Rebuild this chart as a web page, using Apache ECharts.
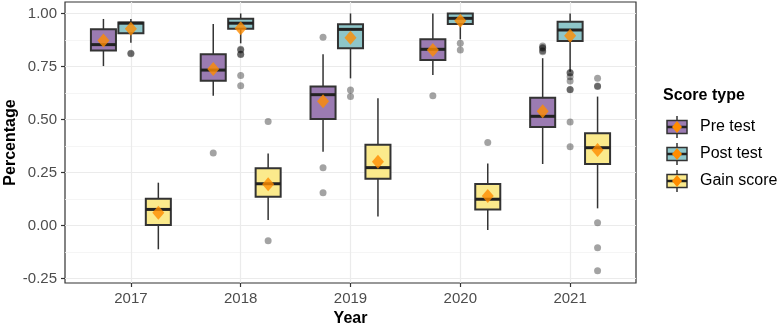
<!DOCTYPE html>
<html><head><meta charset="utf-8">
<script src="https://cdn.jsdelivr.net/npm/echarts@6/dist/echarts.min.js"></script>
<style>html,body{margin:0;padding:0;background:#fff}#c{width:778px;height:325px}</style>
</head><body><div id="c"></div>
<script>
const years = ['2017', '2018', '2019', '2020', '2021'];
const yTicks = [-0.25, 0, 0.25, 0.5, 0.75, 1.0];
const yMinorTicks = [-0.125, 0.125, 0.375, 0.625, 0.875];
const seriesNames = ['Pre test', 'Post test', 'Gain score'];
// [lower whisker, Q1, median, Q3, upper whisker] per year
const preStats = [[0.752, 0.825, 0.853, 0.925, 0.974], [0.612, 0.683, 0.733, 0.808, 0.950], [0.348, 0.502, 0.617, 0.655, 0.808], [0.710, 0.781, 0.831, 0.878, 1.0], [0.290, 0.465, 0.515, 0.603, 0.789]];
const postStats = [[0.862, 0.907, 0.954, 0.957, 0.974], [0.859, 0.928, 0.954, 0.975, 1.0], [0.694, 0.836, 0.925, 0.949, 1.0], [0.878, 0.950, 0.977, 1.0, 1.0], [0.725, 0.870, 0.922, 0.961, 1.0]];
const gainStats = [[-0.112, 0.002, 0.076, 0.126, 0.202], [0.026, 0.136, 0.197, 0.270, 0.340], [0.042, 0.221, 0.273, 0.381, 0.600], [-0.021, 0.076, 0.124, 0.196, 0.293], [0.081, 0.290, 0.367, 0.435, 0.608]];
const preMeans = [0.872, 0.738, 0.586, 0.828, 0.539];
const postMeans = [0.928, 0.930, 0.886, 0.966, 0.895];
const gainMeans = [0.060, 0.195, 0.301, 0.139, 0.356];
// [year index, value]
const preOutliers = [[1, 0.342], [2, 0.888], [2, 0.273], [2, 0.155], [3, 0.612], [4, 0.847], [4, 0.840], [4, 0.836], [4, 0.824], [4, 0.820]];
const postOutliers = [[0, 0.812], [0, 0.810], [1, 0.831], [1, 0.828], [1, 0.808], [1, 0.806], [1, 0.708], [1, 0.659], [2, 0.639], [2, 0.608], [3, 0.859], [3, 0.828], [4, 0.721], [4, 0.719], [4, 0.702], [4, 0.682], [4, 0.642], [4, 0.640], [4, 0.488], [4, 0.372]];
const gainOutliers = [[1, 0.490], [1, -0.072], [3, 0.391], [4, 0.694], [4, 0.658], [4, 0.656], [4, 0.013], [4, -0.105], [4, -0.213]];

const fills = ['#9B7BB2', '#8EC6C9', '#FBEA8C'];
const offsets = [-0.25, 0, 0.25];
const HALF = 0.114;
const FONT = '"Liberation Sans", Arial, sans-serif';

const statsList = [preStats, postStats, gainStats];
const meansList = [preMeans, postMeans, gainMeans];
const outList = [preOutliers, postOutliers, gainOutliers];

function boxRenderer(offset, fill) {
  return function (params, api) {
    const x = api.value(0) + offset;
    const pLo = api.coord([x, api.value(1)]);
    const pQ1 = api.coord([x, api.value(2)]);
    const pMed = api.coord([x, api.value(3)]);
    const pQ3 = api.coord([x, api.value(4)]);
    const pHi = api.coord([x, api.value(5)]);
    const left = api.coord([x - HALF, 0])[0];
    const right = api.coord([x + HALF, 0])[0];
    const ws = { stroke: '#333', lineWidth: 1.5 };
    return {
      type: 'group', children: [
        { type: 'line', shape: { x1: pLo[0], y1: pLo[1], x2: pQ1[0], y2: pQ1[1] }, style: ws },
        { type: 'line', shape: { x1: pQ3[0], y1: pQ3[1], x2: pHi[0], y2: pHi[1] }, style: ws },
        { type: 'rect', shape: { x: left, y: pQ3[1], width: right - left, height: pQ1[1] - pQ3[1] }, style: { fill: fill, stroke: '#333', lineWidth: 2 } },
        { type: 'line', shape: { x1: left, y1: pMed[1], x2: right, y2: pMed[1] }, style: { stroke: '#222', lineWidth: 3 } }
      ]
    };
  };
}

const series = [];
seriesNames.forEach(function (name, k) {
  series.push({
    type: 'custom', name: name, z: 2,
    renderItem: boxRenderer(offsets[k], fills[k]),
    encode: { x: 0, y: [1, 2, 3, 4, 5] },
    data: years.map(function (_, i) { return [i].concat(statsList[k][i]); })
  });
});
seriesNames.forEach(function (name, k) {
  series.push({
    type: 'scatter', name: name + ' outliers', z: 3,
    symbolSize: 7, itemStyle: { color: 'rgba(0,0,0,0.45)' },
    data: outList[k].map(function (o) { return [o[0] + offsets[k], o[1]]; })
  });
});
seriesNames.forEach(function (name, k) {
  series.push({
    type: 'scatter', name: name + ' mean', z: 5,
    symbol: 'diamond', symbolSize: [12, 14], itemStyle: { color: '#FF8C00' },
    data: meansList[k].map(function (m, i) { return [i + offsets[k], m]; })
  });
});

// legend (drawn as graphic to mimic ggplot boxplot keys)
const legendChildren = [{
  type: 'text', x: 663, y: 96,
  style: { text: 'Score type', font: 'bold 16px ' + FONT, fill: '#000', verticalAlign: 'middle' }
}];
seriesNames.forEach(function (name, i) {
  const cy = 127 + 27 * i;
  legendChildren.push(
    { type: 'line', shape: { x1: 677, y1: cy - 11, x2: 677, y2: cy + 11 }, style: { stroke: '#333', lineWidth: 1.5 } },
    { type: 'rect', shape: { x: 667, y: cy - 6.5, width: 20, height: 13 }, style: { fill: fills[i], stroke: '#333', lineWidth: 1.5 } },
    { type: 'line', shape: { x1: 667, y1: cy, x2: 687, y2: cy }, style: { stroke: '#222', lineWidth: 2.5 } },
    { type: 'polygon', shape: { points: [[677, cy - 6], [682, cy], [677, cy + 6], [672, cy]] }, style: { fill: '#FF8C00' } },
    { type: 'text', x: 700, y: cy, style: { text: name, font: '16px ' + FONT, fill: '#000', verticalAlign: 'middle' } }
  );
});

const chart = echarts.init(document.getElementById('c'), null, { renderer: 'canvas' });
chart.setOption({
  animation: false,
  backgroundColor: '#fff',
  grid: { left: 65, right: 142, top: 2, bottom: 42, outerBoundsMode: 'none', containLabel: false, show: true, borderColor: '#333', borderWidth: 1.2, backgroundColor: 'transparent' },
  xAxis: {
    type: 'value', min: -0.6, max: 4.6,
    name: 'Year', nameLocation: 'middle', nameGap: 28, nameMoveOverlap: false,
    nameTextStyle: { fontFamily: FONT, fontWeight: 'bold', fontSize: 16, color: '#000' },
    axisLine: { show: false, onZero: false },
    axisTick: { show: true, length: 4, customValues: [0, 1, 2, 3, 4], lineStyle: { color: '#333', width: 1.2 } },
    axisLabel: { customValues: [0, 1, 2, 3, 4], margin: 8, fontFamily: FONT, fontSize: 15, color: '#4D4D4D', formatter: function (v) { return years[Math.round(v)]; } },
    splitLine: { show: true, lineStyle: { color: '#EBEBEB', width: 1.2 } }
  },
  yAxis: [{
    type: 'value', min: -0.271, max: 1.054,
    name: 'Percentage', nameLocation: 'middle', nameGap: 46, nameMoveOverlap: false,
    nameTextStyle: { fontFamily: FONT, fontWeight: 'bold', fontSize: 16, color: '#000' },
    axisLine: { show: false, onZero: false },
    axisTick: { show: true, length: 4, customValues: yTicks, lineStyle: { color: '#333', width: 1.2 } },
    axisLabel: { customValues: yTicks, margin: 8, fontFamily: FONT, fontSize: 15, color: '#4D4D4D', formatter: function (v) { return v.toFixed(2); } },
    splitLine: { show: true, lineStyle: { color: '#EBEBEB', width: 1.2 } }
  }, {
    type: 'value', min: -0.271, max: 1.054, position: 'left',
    axisLine: { show: false, onZero: false },
    axisTick: { show: false, customValues: yMinorTicks },
    axisLabel: { show: false, customValues: yMinorTicks },
    splitLine: { show: true, lineStyle: { color: '#F3F3F3', width: 0.8 } }
  }],
  series: series,
  graphic: [{ type: 'group', children: legendChildren }]
});
</script></body></html>
